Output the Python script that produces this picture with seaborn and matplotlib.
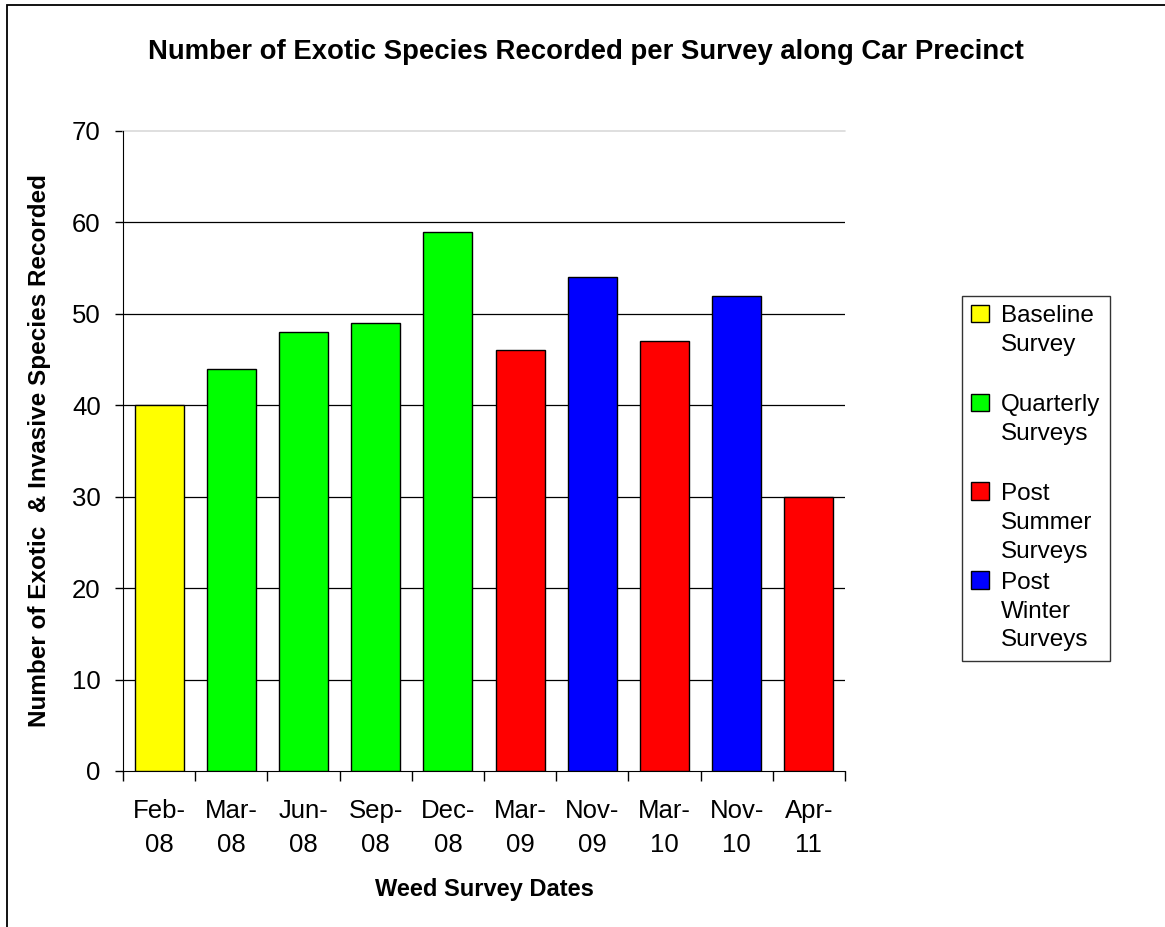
import matplotlib
matplotlib.use("Agg")
import matplotlib.pyplot as plt
from matplotlib.patches import Patch, Rectangle
from matplotlib.legend_handler import HandlerPatch
import seaborn as sns
import pandas as pd

# survey dates, counts and survey type
dates = ["Feb-\n08", "Mar-\n08", "Jun-\n08", "Sep-\n08", "Dec-\n08",
         "Mar-\n09", "Nov-\n09", "Mar-\n10", "Nov-\n10", "Apr-\n11"]
counts = [40, 44, 48, 49, 59, 46, 54, 47, 52, 30]
survey_type = ["Baseline\nSurvey", "Quarterly\nSurveys", "Quarterly\nSurveys",
               "Quarterly\nSurveys", "Quarterly\nSurveys", "Post\nSummer\nSurveys",
               "Post\nWinter\nSurveys", "Post\nSummer\nSurveys",
               "Post\nWinter\nSurveys", "Post\nSummer\nSurveys"]
type_order = ["Baseline\nSurvey", "Quarterly\nSurveys",
              "Post\nSummer\nSurveys", "Post\nWinter\nSurveys"]
type_colors = ["#FFFF00", "#00FF00", "#FF0000", "#0000FF"]

df = pd.DataFrame({"date": dates, "count": counts, "type": survey_type})

sns.set_style("white", rc={"text.color": "black", "axes.labelcolor": "black",
                           "xtick.color": "black", "ytick.color": "black"})
plt.rcParams["font.family"] = ["Liberation Sans", "DejaVu Sans"]

LEG_LS = 1.4


class TopPatch(HandlerPatch):
    # puts the legend square next to the first line of a 3-line label
    def create_artists(self, legend, orig_handle, xdescent, ydescent,
                       width, height, fontsize, trans):
        shift = 0.93 * LEG_LS * fontsize
        p = Rectangle((-xdescent, -ydescent + shift), width, height,
                      facecolor=orig_handle.get_facecolor(),
                      edgecolor="black", lw=1, transform=trans)
        return [p]


fig = plt.figure(figsize=(11.65, 9.27), dpi=100)
ax = fig.add_axes([123 / 1165, 1 - 771 / 927, 722 / 1165, 640 / 927])

sns.barplot(data=df, x="date", y="count", hue="type", hue_order=type_order,
            palette=dict(zip(type_order, type_colors)), dodge=False,
            saturation=1, width=0.68, edgecolor="black", linewidth=1,
            legend=False, ax=ax, zorder=3)

ax.set_xlim(-0.5, len(dates) - 0.5)
ax.set_ylim(0, 70)
ax.set_yticks(range(0, 71, 10))
for y in range(10, 61, 10):
    ax.axhline(y, color="black", lw=0.9, zorder=1)
ax.axhline(70, color="#d9d9d9", lw=1.2, zorder=1, clip_on=False)

for s in ["top", "right"]:
    ax.spines[s].set_visible(False)
ax.spines["left"].set_color("black")
ax.spines["bottom"].set_color("black")

# ticks between categories on x
ax.set_xticks([i - 0.5 for i in range(len(dates) + 1)])
ax.set_xticklabels([])
ax.set_xticks(range(len(dates)), minor=True)
ax.set_xticklabels(dates, minor=True, fontsize=18.5, linespacing=1.55)
ax.tick_params(axis="x", which="major", direction="out", length=7, width=1,
               color="black", bottom=True)
ax.tick_params(axis="x", which="minor", length=0, pad=20)
ax.tick_params(axis="y", direction="out", length=6, width=1, color="black",
               left=True, labelsize=18.5, pad=10)

ax.set_xlabel("Weed Survey Dates", fontsize=17, fontweight="bold", labelpad=15)
ax.set_ylabel("Number of Exotic  & Invasive Species Recorded", fontsize=17.5,
              fontweight="bold", labelpad=15)

fig.text(586 / 1165, 1 - 52 / 927,
         "Number of Exotic Species Recorded per Survey along Car Precinct",
         ha="center", va="center", fontsize=19.8, fontweight="bold")

# every legend entry gets the same 3-line slot, as in the original chart
handles = [Patch(facecolor=c, edgecolor="black", linewidth=1) for c in type_colors]
labels = [lab + "\n" * (2 - lab.count("\n")) for lab in type_order]
leg = fig.legend(handles, labels, loc="upper left",
                 handler_map={Patch: TopPatch()},
                 bbox_to_anchor=(962 / 1165, 1 - 296 / 927),
                 fontsize=17.5, frameon=True, fancybox=False, handlelength=0.72,
                 handleheight=0.72, handletextpad=0.5, labelspacing=0.38,
                 borderpad=0.38, borderaxespad=0, edgecolor="black")
leg.get_frame().set_linewidth(1)
for t in leg.get_texts():
    t.set_linespacing(LEG_LS)

# outer chart border (left and top only visible)
fig.patches.append(Rectangle((7 / 1165, -0.1), 1.2, 1.1 - 5 / 927,
                             transform=fig.transFigure, fill=False,
                             edgecolor="black", lw=1.3))

fig.savefig("out.png", dpi=100)
